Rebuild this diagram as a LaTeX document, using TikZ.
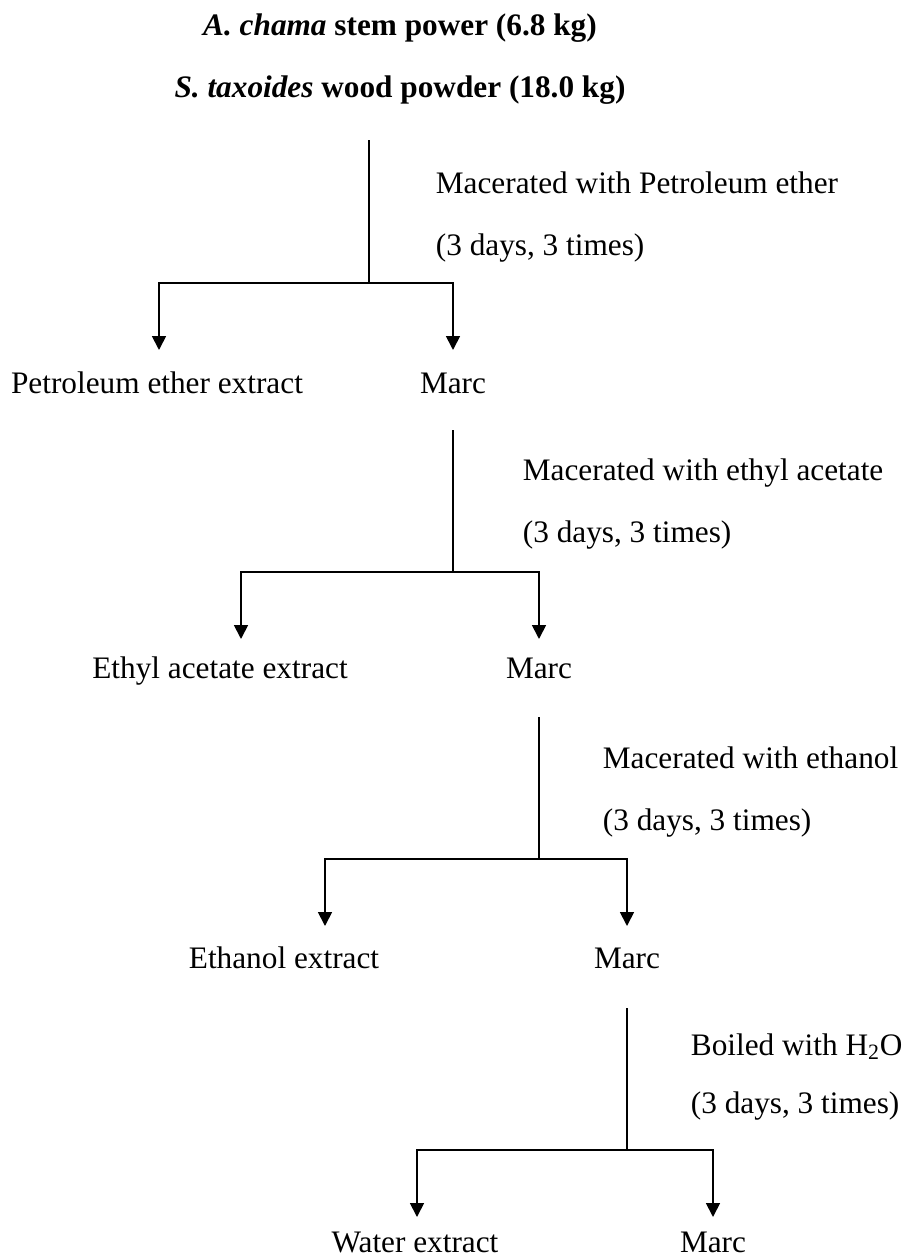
\documentclass[tikz,border=0pt]{standalone}
\usepackage{fontspec}
\setmainfont{Liberation Serif}
\usetikzlibrary{arrows.meta}
\begin{document}
\begin{tikzpicture}[font=\fontsize{17.8pt}{21pt}\selectfont, inner sep=0pt, line width=1pt,
  arr/.style={-{Triangle[width=0.28cm,length=0.28cm]}}]
\useasboundingbox (0,0) rectangle (18.08,-25.14);
\node[anchor=base] (title1) at (8,-0.7) {\textbf{\textit{A. chama} stem power (6.8 kg)}};
\node[anchor=base] (title2) at (8,-1.94) {\textbf{\textit{S. taxoides} wood powder (18.0 kg)}};
\coordinate (t1) at (7.38,-2.8);
\coordinate (j1) at (7.38,-5.66);
\coordinate (l1) at (3.18,-7.0);
\coordinate (r1) at (9.06,-7.0);
\draw (t1)--(j1);
\draw[arr] (j1) -| (l1);
\draw[arr] (j1) -| (r1);
\node[anchor=base west] (m1) at (8.7,-3.86) {Macerated with Petroleum ether};
\node[anchor=base west] (d1) at (8.7,-5.1) {(3 days, 3 times)};
\node[anchor=base] (pe) at (3.14,-7.86) {Petroleum ether extract};
\node[anchor=base] (marc1) at (9.06,-7.86) {Marc};
\coordinate (t2) at (9.06,-8.6);
\coordinate (j2) at (9.06,-11.44);
\coordinate (l2) at (4.82,-12.78);
\coordinate (r2) at (10.78,-12.78);
\draw (t2)--(j2);
\draw[arr] (j2) -| (l2);
\draw[arr] (j2) -| (r2);
\node[anchor=base west] (m2) at (10.44,-9.6) {Macerated with ethyl acetate};
\node[anchor=base west] (d2) at (10.44,-10.84) {(3 days, 3 times)};
\node[anchor=base] (ea) at (4.4,-13.56) {Ethyl acetate extract};
\node[anchor=base] (marc2) at (10.78,-13.56) {Marc};
\coordinate (t3) at (10.78,-14.34);
\coordinate (j3) at (10.78,-17.18);
\coordinate (l3) at (6.5,-18.52);
\coordinate (r3) at (12.54,-18.52);
\draw (t3)--(j3);
\draw[arr] (j3) -| (l3);
\draw[arr] (j3) -| (r3);
\node[anchor=base west] (m3) at (12.04,-15.36) {Macerated with ethanol};
\node[anchor=base west] (d3) at (12.04,-16.6) {(3 days, 3 times)};
\node[anchor=base] (et) at (5.68,-19.36) {Ethanol extract};
\node[anchor=base] (marc3) at (12.54,-19.36) {Marc};
\coordinate (t4) at (12.54,-20.16);
\coordinate (j4) at (12.54,-23.0);
\coordinate (l4) at (8.34,-24.34);
\coordinate (r4) at (14.26,-24.34);
\draw (t4)--(j4);
\draw[arr] (j4) -| (l4);
\draw[arr] (j4) -| (r4);
\node[anchor=base west] (m4) at (13.8,-21.1) {Boiled with H\textsubscript{2}O};
\node[anchor=base west] (d4) at (13.8,-22.26) {(3 days, 3 times)};
\node[anchor=base] (wa) at (8.3,-25.04) {Water extract};
\node[anchor=base] (marc4) at (14.26,-25.04) {Marc};
\end{tikzpicture}
\end{document}
